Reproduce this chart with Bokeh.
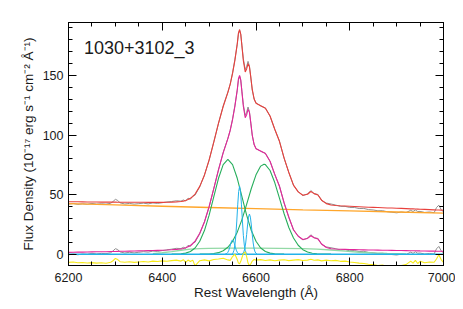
from bokeh.plotting import figure
from bokeh.models import Range1d, LinearAxis, SingleIntervalTicker, Label, CustomJSTickFormatter
from bokeh.embed import file_html
from bokeh.resources import INLINE

# ---------------- data ----------------
wl = [6200, 6210, 6220, 6230, 6240, 6250, 6260, 6270, 6280, 6290, 6295, 6300, 6305, 6310,
      6320, 6330, 6340, 6350, 6360, 6370, 6380, 6390, 6400, 6410, 6420, 6430, 6440, 6445,
      6450, 6455, 6460, 6465, 6470, 6480, 6490, 6500, 6510, 6520, 6530, 6540, 6545, 6550,
      6555, 6560, 6562.5, 6565, 6567.5, 6570, 6573, 6577, 6580, 6583, 6586, 6589, 6592,
      6596, 6600, 6610, 6620, 6630, 6640, 6650, 6660, 6670, 6680, 6690, 6700, 6710, 6717,
      6724, 6732, 6740, 6750, 6760, 6770, 6780, 6790, 6800, 6810, 6820, 6830, 6840, 6850,
      6860, 6870, 6880, 6890, 6900, 6910, 6920, 6930, 6935, 6940, 6945, 6950, 6960, 6970,
      6980, 6985, 6990, 6995, 7000]

# observed spectrum (grey, upper)
obs_flux = [42.0, 42.5, 41.8, 42.3, 41.9, 42.6, 42.0, 42.3, 42.0, 42.7, 44.2, 46.0, 45.1, 43.1,
            42.1, 42.6, 42.0, 42.4, 42.8, 42.2, 43.0, 42.6, 43.2, 43.8, 44.2, 44.8, 44.5, 45.5,
            44.6, 47.0, 46.1, 48.9, 49.5, 56.6, 66.5, 78.8, 94.4, 109.7, 124.4, 136.0, 142.7, 152.2,
            163.6, 176.1, 184.5, 188.0, 184.5, 175.0, 163.9, 154.9, 157.4, 161.8, 157.8, 147.8, 137.7,
            130.2, 126.9, 124.4, 122.7, 115.7, 104.8, 94.9, 80.4, 68.6, 57.7, 52.5, 49.2, 50.6, 53.4,
            50.8, 50.1, 45.0, 42.9, 42.1, 41.2, 40.1, 40.1, 39.2, 39.2, 38.3, 38.4, 37.4, 37.1,
            36.4, 36.5, 35.6, 35.2, 34.7, 35.4, 34.9, 36.8, 35.8, 37.1, 35.8, 35.9, 35.0, 35.4,
            34.8, 39.1, 41.1, 37.5, 35.4]

# total model (red)
model_total = [44.0, 44.0, 44.0, 43.9, 43.8, 43.8, 43.8, 43.7, 43.7, 43.7, 43.7, 43.7, 43.6, 43.6,
               43.6, 43.6, 43.6, 43.6, 43.6, 43.5, 43.5, 43.5, 43.5, 43.6, 43.7, 43.9, 44.2, 44.5,
               45.1, 45.8, 46.9, 48.3, 50.5, 56.9, 66.3, 79.2, 94.1, 110.0, 123.9, 135.8, 142.7, 151.7,
               162.6, 176.6, 185.5, 188.5, 184.5, 174.5, 162.4, 152.9, 155.4, 159.8, 157.3, 148.3, 138.2,
               130.2, 126.7, 124.6, 122.5, 115.9, 104.8, 94.7, 80.6, 68.5, 57.9, 52.3, 49.5, 50.3, 52.6,
               50.8, 49.7, 45.3, 42.4, 41.3, 40.9, 40.6, 40.4, 40.2, 40.0, 39.8, 39.6, 39.4, 39.3,
               39.2, 39.0, 38.8, 38.7, 38.5, 38.4, 38.2, 38.0, 38.0, 37.9, 37.8, 37.7, 37.6, 37.4,
               37.2, 37.1, 37.1, 37.0, 36.9]

# continuum-subtracted spectrum (grey, lower)
obs_sub = [-0.5, 0.1, -0.5, 0.15, -0.1, 0.7, 0.2, 0.65, 0.4, 1.2, 2.75, 4.6, 3.85, 1.9,
           1.0, 1.6, 1.1, 1.6, 2.1, 1.7, 2.6, 2.3, 3.0, 3.65, 4.2, 4.9, 4.7, 5.8,
           4.9, 7.4, 6.5, 9.4, 10.0, 17.2, 27.2, 39.6, 55.3, 70.7, 85.5, 97.2, 104.0, 113.5,
           125.0, 137.5, 146.0, 149.5, 146.0, 136.5, 125.5, 116.5, 119.0, 123.5, 119.5, 109.5, 99.5,
           92.0, 88.7, 86.3, 84.7, 77.8, 67.0, 57.2, 42.8, 31.1, 20.3, 15.2, 12.0, 13.5, 16.3,
           13.8, 13.2, 8.2, 6.1, 5.4, 4.6, 3.6, 3.7, 2.9, 3.0, 2.2, 2.4, 1.5, 1.25,
           0.6, 0.8, 0.05, -0.3, -0.7, 0.05, -0.3, 1.7, 0.68, 2.05, 0.8, 0.95, 0.1, 0.6,
           0.15, 4.5, 6.5, 2.95, 0.9]

# emission-line model (magenta)
line_model = [1.5, 1.6, 1.7, 1.75, 1.8, 1.9, 2.0, 2.05, 2.1, 2.2, 2.25, 2.3, 2.35, 2.4,
              2.5, 2.6, 2.7, 2.8, 2.9, 3.0, 3.1, 3.2, 3.3, 3.45, 3.7, 4.0, 4.4, 4.8,
              5.4, 6.2, 7.3, 8.8, 11.0, 17.5, 27.0, 40.0, 55.0, 71.0, 85.0, 97.0, 104.0, 113.0,
              124.0, 138.0, 147.0, 150.0, 146.0, 136.0, 124.0, 114.5, 117.0, 121.5, 119.0, 110.0, 100.0,
              92.0, 88.5, 86.5, 84.5, 78.0, 67.0, 57.0, 43.0, 31.0, 20.5, 15.0, 12.3, 13.2, 15.5,
              13.8, 12.8, 8.5, 5.6, 4.6, 4.3, 4.1, 4.0, 3.9, 3.8, 3.7, 3.6, 3.5, 3.45,
              3.4, 3.3, 3.25, 3.2, 3.1, 3.05, 3.0, 2.9, 2.88, 2.85, 2.8, 2.75, 2.7, 2.6,
              2.55, 2.5, 2.5, 2.45, 2.4]

# residuals, offset (yellow)
residual = [-6.9, -6.6, -7.2, -7.0, -7.4, -7.1, -7.5, -7.2, -7.6, -6.8, -5.5, -3.6, -4.5, -6.3,
            -6.8, -6.4, -6.9, -6.5, -6.2, -6.6, -5.8, -6.2, -5.6, -5.9, -5.4, -5.0, -5.8, -4.6,
            -6.9, -4.9, -6.2, -5.0, -9.8, -5.5, -4.8, -5.6, -4.5, -4.0, -3.4, -4.8, -5.2, -2.0,
            0.0, -4.5, -7.5, -8.0, -6.0, -3.0, 0.5, 2.0, -2.0, -7.5, -9.8, -8.0, -5.8,
            -4.5, -5.0, -4.6, -5.3, -4.8, -5.5, -5.0, -4.7, -5.4, -5.0, -4.6, -5.3, -5.0, -4.2,
            -5.1, -4.8, -5.6, -5.0, -5.5, -5.2, -6.0, -5.8, -6.5, -7.0, -7.5, -7.8, -8.5, -8.8,
            -9.5, -9.2, -10.5, -10.5, -10.2, -9.5, -8.8, -5.8, -7.5, -5.2, -7.8, -6.0, -7.2, -6.5,
            -6.8, -4.0, -0.5, -4.5, -7.0]

# power-law continuum (orange)
cont_wl = [6200, 6300, 6400, 6500, 6600, 6700, 6800, 6900, 7000]
cont_flux = [42.5, 41.35, 40.2, 39.15, 38.15, 37.2, 36.3, 35.4, 34.5]

# broad Gaussian components (green)
broad1_wl = [6420, 6430, 6440, 6450, 6460, 6470, 6480, 6490, 6500, 6510, 6520, 6530, 6540,
             6550, 6560, 6570, 6580, 6590, 6600, 6610, 6620, 6630, 6640, 6650, 6660]
broad1_flux = [0.03, 0.1, 0.31, 0.88, 2.27, 5.2, 10.8, 19.8, 32.7, 48.2, 63.7, 75.2, 79.5,
               75.2, 63.7, 48.2, 32.7, 19.8, 10.8, 5.2, 2.27, 0.88, 0.31, 0.1, 0.03]
broad2_wl = [6480, 6490, 6500, 6510, 6520, 6530, 6540, 6550, 6560, 6570, 6580, 6590, 6600,
             6610, 6617, 6620, 6630, 6640, 6650, 6660, 6670, 6680, 6690, 6700, 6710, 6720,
             6730, 6740, 6750, 6760]
broad2_flux = [0.02, 0.07, 0.2, 0.53, 1.29, 2.86, 5.81, 10.8, 18.5, 29.0, 41.8, 55.1, 66.6,
               73.9, 75.5, 75.2, 70.2, 60.1, 47.1, 33.9, 22.4, 13.6, 7.5, 3.8, 1.79, 0.77,
               0.3, 0.11, 0.04, 0.01]

# very broad pedestal (light green)
vbroad_wl = [6380, 6400, 6420, 6440, 6460, 6480, 6500, 6550, 6600, 6650, 6700, 6730, 6760,
             6790, 6820, 6850, 6880, 6920]
vbroad_flux = [0.5, 1.2, 2.2, 3.3, 4.2, 4.7, 4.9, 5.0, 5.0, 4.9, 4.7, 4.3, 3.5, 2.5, 1.6,
               1.0, 0.6, 0.3]

# narrow lines (cyan): H-alpha, [NII]6585, [NII]6550
ha_wl = [6549, 6551, 6553, 6555, 6557, 6559, 6561, 6563, 6565, 6567, 6569, 6571, 6573,
         6575, 6577, 6579, 6581]
ha_flux = [0.3, 1.1, 3.2, 7.7, 15.8, 27.8, 41.4, 52.6, 57.0, 52.6, 41.4, 27.8, 15.8, 7.7,
           3.2, 1.1, 0.3]
n2b_wl = [6570, 6572, 6574, 6576, 6578, 6580, 6582, 6584, 6586, 6588, 6590, 6592, 6594,
          6596, 6598, 6600, 6602]
n2b_flux = [0.2, 0.7, 1.9, 4.5, 9.4, 16.4, 24.5, 31.1, 33.7, 31.1, 24.5, 16.4, 9.4, 4.5,
            1.9, 0.7, 0.2]
n2a_wl = [6534, 6536, 6538, 6540, 6542, 6544, 6546, 6548, 6550, 6552, 6554, 6556, 6558,
          6560, 6562, 6564, 6566]
n2a_flux = [0.07, 0.24, 0.67, 1.6, 3.3, 5.8, 8.7, 11.1, 12.0, 11.1, 8.7, 5.8, 3.3, 1.6,
            0.67, 0.24, 0.07]
narrow_base_wl = [6200, 7000]
narrow_base_flux = [0.0, 0.0]

TITLE = "1030+3102_3"
TITLE_X, TITLE_Y = 6233, 173.0
X_RANGE = (6200, 7000)
Y_RANGE = (-9.5, 194.4)

# ---------------- styles ----------------
FONT = "Liberation Sans"
TXT = "#1a1a1a"
GREY = "#8f8f8f"
RED = "#e8403c"
MAGENTA = "#e2259a"
ORANGE = "#ffa62b"
GREEN = "#27ae5c"
LGREEN = "#93d9a6"
CYAN = "#22b2ea"
YELLOW = "#f7ea18"

p = figure(frame_width=375, frame_height=243,
           x_range=Range1d(*X_RANGE), y_range=Range1d(*Y_RANGE),
           output_backend="svg", toolbar_location=None,
           min_border_left=68, min_border_right=12, min_border_top=22, min_border_bottom=36,
           x_axis_label="Rest Wavelength (Å)",
           y_axis_label="Flux Density (10⁻¹⁷ erg s⁻¹ cm⁻² Å⁻¹)")
p.xgrid.visible = False
p.ygrid.visible = False
p.outline_line_color = "black"
p.outline_line_width = 1
p.background_fill_color = "white"
p.border_fill_color = "white"

xt = SingleIntervalTicker(interval=200, num_minor_ticks=4)
yt = SingleIntervalTicker(interval=50, num_minor_ticks=5)

def style_axis(ax, labels=True):
    ax.axis_line_color = "black"
    ax.axis_line_width = 1
    ax.major_tick_in = 8
    ax.major_tick_out = 0
    ax.minor_tick_in = 4
    ax.minor_tick_out = 0
    ax.major_tick_line_color = "black"
    ax.minor_tick_line_color = "black"
    ax.major_label_text_font = FONT
    ax.major_label_text_color = TXT
    ax.major_label_text_font_size = "12.5px"
    ax.axis_label_text_font = FONT
    ax.axis_label_text_color = TXT
    ax.axis_label_text_font_style = "normal"
    ax.axis_label_text_font_size = "13.5px"
    if not labels:
        ax.formatter = CustomJSTickFormatter(code="return ''")
        ax.major_label_standoff = 0

bx = p.xaxis[0]
bx.ticker = xt
style_axis(bx)
bx.major_label_standoff = 7
bx.axis_label_standoff = 0

ly = p.yaxis[0]
ly.ticker = yt
style_axis(ly)
ly.major_label_standoff = 5
ly.axis_label_standoff = 4

top = LinearAxis(ticker=xt)
style_axis(top, labels=False)
p.add_layout(top, "above")
right = LinearAxis(ticker=yt)
style_axis(right, labels=False)
p.add_layout(right, "right")

# ---------------- curves ----------------
p.line(wl, obs_flux, line_color=GREY, line_width=1)
p.line(wl, obs_sub, line_color=GREY, line_width=1)
p.line(cont_wl, cont_flux, line_color=ORANGE, line_width=1.3)
p.line(wl, model_total, line_color=RED, line_width=1.1)
p.line(vbroad_wl, vbroad_flux, line_color=LGREEN, line_width=1.3)
p.line(wl, line_model, line_color=MAGENTA, line_width=1.1)
p.line(broad1_wl, broad1_flux, line_color=GREEN, line_width=1.1)
p.line(broad2_wl, broad2_flux, line_color=GREEN, line_width=1.1)
p.line(ha_wl, ha_flux, line_color=CYAN, line_width=1)
p.line(n2b_wl, n2b_flux, line_color=CYAN, line_width=1)
p.line(n2a_wl, n2a_flux, line_color=CYAN, line_width=1)
p.line(narrow_base_wl, narrow_base_flux, line_color=CYAN, line_width=1.6)
p.line(wl, residual, line_color=YELLOW, line_width=1.1)

p.add_layout(Label(x=TITLE_X, y=TITLE_Y, text=TITLE, text_font=FONT,
                   text_font_size="18px", text_color=TXT, text_baseline="alphabetic"))

open("out.html", "w").write(file_html(p, INLINE))
